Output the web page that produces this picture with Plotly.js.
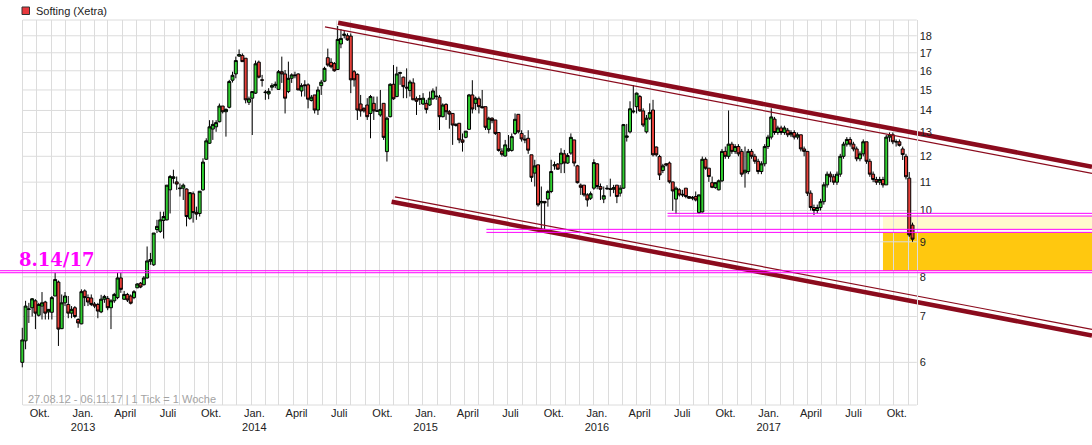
<!DOCTYPE html>
<html><head><meta charset="utf-8">
<script src="https://cdn.plot.ly/plotly-3.0.1.min.js"></script>
<style>html,body{margin:0;padding:0;background:#fff}#chart{width:1092px;height:445px}</style>
</head><body><div id="chart"></div>
<script>
// ---- data (weekly candles, Softing Xetra, 27.08.12 - 06.11.17) ----
const firstWeekUTC = Date.UTC(2012, 7, 31);
const open = [
6.00,6.45,7.17,7.21,7.38,7.03,7.25,7.35,7.11,7.10,
7.50,7.86,6.72,7.33,7.29,7.08,7.21,6.93,6.83,7.63,
7.46,7.45,7.30,7.29,7.11,7.42,7.44,7.21,7.38,7.46,
7.97,7.42,7.54,7.50,7.46,7.71,7.83,7.79,7.97,8.43,
8.33,9.38,9.32,9.67,9.69,10.72,11.14,11.01,10.76,10.78,
10.75,9.74,10.58,9.94,9.90,10.72,11.88,12.54,13.15,13.25,
13.48,14.21,13.94,14.15,15.50,15.83,16.81,16.85,16.69,14.39,
14.59,14.84,16.47,15.52,14.90,14.80,15.14,15.22,15.03,15.95,
15.83,14.92,15.60,15.78,15.83,14.95,15.26,15.26,14.48,14.75,
14.02,15.22,15.45,16.72,16.46,16.39,16.07,17.51,18.02,18.00,
17.98,15.95,15.81,14.31,14.10,14.26,13.86,14.34,13.98,13.79,
14.34,12.19,13.71,15.29,14.67,15.86,15.66,15.14,14.97,15.36,
14.56,14.57,14.31,14.34,14.26,14.56,14.70,14.64,13.71,14.29,
13.94,13.86,13.36,13.41,12.68,12.79,13.14,14.75,14.34,14.56,
14.18,14.18,13.14,13.64,13.56,13.00,12.21,12.01,12.22,12.24,
12.96,13.82,12.96,12.71,12.75,12.06,11.34,11.66,10.26,10.31,
10.39,10.66,11.62,11.69,11.70,12.10,11.73,12.13,12.68,11.62,
10.89,10.89,10.54,10.42,10.78,11.70,10.84,10.39,10.78,10.76,10.74,
10.89,10.60,10.78,12.79,13.03,13.93,14.18,14.67,13.98,13.03,
13.64,14.02,12.38,11.99,11.44,11.70,11.73,11.01,10.39,10.72,
10.56,10.78,10.48,10.42,
10.48,9.93,9.95,11.88,11.53,10.98,10.80,10.72,
11.05,12.2,12.0,12.5,12.2,12.4,12.2,11.35,11.4,12.2,
12.0,11.8,11.4,11.7,12.4,12.8,13.6,13.0,13.2,13.0,
13.1,12.9,13.0,12.8,12.9,12.3,12.2,10.6,10.1,10.0,
10.1,10.3,10.9,11.3,11.2,11.0,11.3,12.0,12.5,12.7,
12.5,12.3,11.9,12.1,12.6,11.8,11.3,11.1,11.0,11.1,
10.9,12.8,12.9,12.6,12.6,12.3,12.0,11.15,9.52];
const high = [
6.74,7.38,7.33,7.45,7.42,7.33,7.60,7.38,7.18,7.50,
8.11,7.90,7.54,7.60,7.50,7.25,7.25,6.96,7.67,7.67,
7.54,7.54,7.35,7.33,7.53,7.53,7.50,7.42,7.58,8.11,
8.11,7.63,7.58,7.54,7.65,7.83,7.86,8.02,8.86,8.67,
9.27,9.69,9.96,9.96,10.89,11.27,11.47,11.21,10.95,10.95,
10.77,10.62,10.66,10.13,10.67,11.92,12.75,13.55,13.55,13.55,
14.33,14.21,14.10,15.52,15.95,16.78,17.19,16.96,16.69,14.67,
14.92,16.56,16.56,15.78,15.00,15.09,15.34,15.43,16.04,16.78,
16.04,16.50,15.86,15.95,15.86,15.34,15.50,15.34,14.75,14.75,
15.17,15.52,16.22,17.24,16.69,16.48,18.60,18.40,18.35,18.15,
18.14,16.04,15.86,14.75,14.15,14.59,14.75,14.67,14.67,15.00,
14.34,13.71,15.34,16.31,16.22,15.95,15.69,16.13,15.52,15.60,
14.67,14.75,14.84,14.51,14.92,15.08,15.17,14.75,14.34,14.34,
14.02,13.86,13.41,13.41,12.96,13.06,14.80,15.50,14.67,14.67,
15.00,14.18,13.71,13.68,13.56,13.00,12.33,12.68,12.89,12.96,
13.86,13.83,13.10,12.89,13.10,12.06,11.86,11.66,10.84,10.31,
10.72,11.86,11.79,11.73,12.33,12.26,12.13,12.96,12.68,11.66,
10.95,10.89,10.60,10.66,11.88,11.73,10.95,10.84,10.89,11.13,10.90,
10.89,10.89,13.38,13.38,14.44,15.25,14.87,14.75,14.10,13.79,
14.34,14.51,12.40,12.06,11.70,11.73,11.79,11.01,10.84,10.78,
10.72,10.78,10.50,10.50,
10.66,10.54,11.99,11.96,11.53,11.21,11.00,11.10,
12.3,12.4,14.0,12.6,12.5,12.5,12.3,12.4,12.3,12.3,
12.1,11.9,11.8,12.5,12.9,14.1,13.7,13.3,13.3,13.3,
13.2,13.1,13.1,13.0,12.9,12.4,12.2,10.7,10.2,10.2,
10.4,11.0,11.4,11.4,11.3,11.4,12.1,12.6,12.8,12.8,
12.6,12.4,12.2,12.7,12.6,11.9,11.4,11.2,11.2,11.2,
12.9,13.0,13.0,12.7,12.7,12.4,12.1,11.38,9.6];
const low = [
5.90,6.27,6.85,7.00,6.71,7.00,6.93,6.93,6.93,6.93,
7.50,6.34,6.71,7.25,6.96,6.96,6.96,6.74,6.82,7.25,
7.25,7.25,7.20,6.96,7.08,7.33,7.15,6.71,7.33,7.42,
7.58,7.40,7.35,7.29,7.42,7.70,7.70,7.77,7.95,8.33,
8.30,9.27,9.27,9.10,9.67,9.90,10.95,10.72,10.48,10.36,
9.48,9.69,9.60,9.69,9.80,10.69,11.86,12.51,12.68,13.03,
13.45,13.86,12.82,14.10,15.38,15.60,16.76,16.50,14.34,14.26,
12.89,14.80,15.60,15.17,14.51,14.54,14.97,15.09,15.00,15.36,
13.86,14.84,15.36,15.60,15.00,14.67,14.67,14.10,14.43,13.86,
13.79,14.75,15.40,16.22,16.13,15.95,16.04,17.26,17.84,17.70,
14.84,15.17,13.56,13.71,13.90,13.56,12.75,13.56,13.94,13.71,
12.68,11.79,13.68,14.51,14.64,15.26,14.59,14.59,14.67,14.51,
13.79,14.26,14.26,13.86,14.21,14.51,14.51,13.11,13.68,13.56,
13.17,12.47,13.26,12.54,12.19,12.75,13.11,13.86,14.02,13.86,
14.10,13.11,12.96,13.41,12.89,12.19,11.99,11.99,12.19,12.19,
12.89,12.96,12.61,12.54,12.10,11.01,10.84,10.13,9.38,9.27,
10.13,10.60,11.47,11.47,11.34,11.34,11.70,12.06,11.60,10.95,
10.54,10.48,10.13,10.36,10.72,10.74,10.36,10.25,10.72,10.48,10.60,
10.25,10.48,10.76,12.61,12.96,13.86,13.86,13.94,13.24,12.96,
13.56,11.99,11.99,11.08,11.34,11.60,10.95,9.99,9.88,10.48,
10.46,10.42,10.40,10.35,
10.31,9.88,9.93,11.47,11.01,10.78,10.76,10.70,
11.0,11.9,11.9,12.1,12.1,12.0,11.2,10.8,11.3,11.9,
11.7,11.3,11.3,11.6,12.3,12.7,12.9,12.9,12.9,12.9,
12.8,12.8,12.7,12.7,12.2,12.0,10.5,10.0,9.85,9.9,
10.0,10.2,10.8,11.0,10.9,10.9,11.2,11.9,12.4,12.4,
12.2,11.8,11.8,12.0,11.7,11.2,11.0,10.9,10.9,10.8,
10.9,12.6,12.5,12.4,12.4,11.85,11.1,9.15,9.0];
const close = [
6.47,7.25,7.18,7.43,7.08,7.29,7.33,7.08,7.17,7.46,
7.93,6.71,7.33,7.50,7.08,7.17,7.00,6.85,7.61,7.46,
7.35,7.29,7.25,7.13,7.42,7.49,7.21,7.38,7.54,7.97,
7.67,7.54,7.40,7.32,7.61,7.81,7.73,7.97,8.44,8.48,
9.27,9.48,9.69,9.80,10.89,11.21,11.20,10.93,10.78,10.89,
9.80,10.62,9.93,9.88,10.67,11.77,12.64,13.25,13.36,13.44,
14.21,13.94,14.05,15.43,15.76,16.56,16.90,16.50,14.51,14.56,
14.92,16.38,15.66,15.50,14.87,14.93,15.22,15.29,15.95,15.83,
14.59,15.60,15.78,15.74,15.00,15.22,15.22,14.54,14.64,14.02,
15.00,15.40,16.13,16.31,16.22,16.00,17.78,17.84,18.10,17.75,
15.52,15.52,14.02,13.98,13.98,13.71,14.67,13.98,13.97,14.05,
12.79,13.64,15.29,14.56,15.83,15.90,15.17,15.10,15.41,14.51,
14.44,14.54,14.59,14.05,14.59,14.95,14.67,13.71,14.26,13.94,
13.83,13.33,13.32,12.68,12.58,13.06,14.75,14.07,14.59,14.18,
14.13,13.23,13.64,13.53,12.96,12.24,12.08,12.47,12.31,12.82,
13.59,13.03,12.72,12.68,12.25,11.18,11.62,10.19,10.31,10.26,
10.66,11.40,11.66,11.49,12.13,11.73,12.03,12.79,11.73,10.98,
10.81,10.54,10.36,10.58,11.75,10.84,10.74,10.51,10.76,10.74,10.80,
10.48,10.78,13.35,12.85,14.08,13.97,14.84,13.98,13.33,13.64,
13.90,12.06,12.06,11.27,11.62,11.66,11.01,10.68,10.78,10.54,
10.54,10.48,10.42,10.45,
10.36,10.54,11.88,11.53,11.21,10.81,10.98,11.05,
12.2,12.0,12.5,12.2,12.4,12.1,11.3,11.45,12.2,12.0,
11.8,11.4,11.7,12.4,12.8,13.7,13.0,13.2,13.0,13.2,
12.9,13.0,12.8,12.9,12.3,12.2,10.6,10.1,10.0,10.1,
10.3,10.9,11.3,11.2,11.0,11.3,12.0,12.5,12.7,12.5,
12.3,11.9,12.1,12.6,11.8,11.3,11.1,11.0,11.1,10.9,
12.8,12.9,12.6,12.6,12.45,12.07,11.2,9.21,9.08];

const yTicks = [6,7,8,9,10,11,12,13,14,15,16,17,18];
const quarterLabels = {1:'Jan.', 4:'April', 7:'Juli', 10:'Okt.'};

// trend channel (date, price)
const upperThickX = ['2014-07-05','2018-11-27 10:00'], upperThickY = [18.80, 11.585];
const upperThinX  = ['2014-06-07','2018-11-27 10:00'], upperThinY  = [18.55, 11.33];
const lowerThickX = ['2014-10-27','2018-11-27 10:00'], lowerThickY = [10.30, 6.567];
const lowerThinX  = ['2014-11-03','2018-11-27 10:00'], lowerThinY  = [10.47, 6.705];

// horizontal levels (magenta double lines)
const levelStart = ['2012-07-14 12:00','2015-05-17','2016-06-06'];
const levelLow   = [8.111, 9.29, 9.815];
const levelHigh  = [8.166, 9.386, 9.905];
const zoneStart = '2017-09-08';

const xStart = '2012-07-14 12:00', xEnd = '2018-11-27 10:00';
const gridLeft = '2012-09-01', gridRight = '2017-11-19';

// ---- build ----
const dates = open.map((_, i) => new Date(firstWeekUTC + i*7*864e5).toISOString().slice(0,10));

const tickvals = [], ticktext = [];
for (let y = 2012, m = 9; y < 2017 || (y === 2017 && m <= 11); ) {
  tickvals.push(`${y}-${String(m).padStart(2,'0')}-01`);
  let t = quarterLabels[m] || '';
  if (m === 1) t += '<br>' + y;
  ticktext.push(t);
  m++; if (m > 12) { m = 1; y++; }
}

const MAROON = '#8b0b1d', MAG = '#ff00ff', GRID = '#dcdcdc';
const shapes = [];
shapes.push({type:'rect', xref:'x', yref:'y', x0:zoneStart, x1:xEnd, y0:levelHigh[0], y1:levelLow[1], fillcolor:'#ffc80f', line:{width:0}, layer:'below'});
shapes.push({type:'rect', xref:'x', yref:'y', x0:zoneStart, x1:xEnd, y0:levelHigh[1], y1:levelLow[2], fillcolor:'#fffacd', line:{width:0}, layer:'below'});
yTicks.forEach(v => shapes.push({type:'line', xref:'x', yref:'y', x0:gridLeft, x1:gridRight, y0:v, y1:v, line:{color:GRID, width:1}, layer:'below'}));
shapes.push({type:'line', xref:'x', yref:'paper', x0:gridLeft, x1:gridRight, y0:1, y1:1, line:{color:GRID, width:1}, layer:'below'});
shapes.push({type:'line', xref:'x', yref:'paper', x0:gridLeft, x1:gridRight, y0:0, y1:0, line:{color:GRID, width:1}, layer:'below'});
levelStart.forEach((s, i) => {
  [levelLow[i], levelHigh[i]].forEach(v => shapes.push({type:'line', xref:'x', yref:'y', x0:s, x1:xEnd, y0:v, y1:v, line:{color:MAG, width:1}, layer:'above'}));
});
shapes.push({type:'rect', xref:'paper', yref:'paper', x0:22/1092, x1:29.5/1092, y0:(405-14.5)/385, y1:(405-7)/385, fillcolor:'#e8383d', line:{color:'#333', width:1}});

const annotations = [
  {xref:'paper', yref:'paper', x:34/1092, y:(405-10.5)/385, xanchor:'left', yanchor:'middle', showarrow:false, text:'Softing (Xetra)', font:{family:'Liberation Sans, Arial, sans-serif', size:11, color:'#222'}},
  {xref:'paper', yref:'paper', x:26/1092, y:(405-399)/385, xanchor:'left', yanchor:'middle', showarrow:false, text:'27.08.12 - 06.11.17 | 1 Tick = 1 Woche', font:{family:'Liberation Sans, Arial, sans-serif', size:11, color:'#a3a3a3'}},
  {xref:'paper', yref:'paper', x:17/1092, y:(405-259.5)/385, xanchor:'left', yanchor:'middle', showarrow:false, text:'<b>8.14/17</b>', font:{family:'DejaVu Serif, serif', size:18, color:MAG}}
];

const lineTrace = (x, y, w) => ({type:'scatter', mode:'lines', x, y, line:{color:MAROON, width:w}, hoverinfo:'skip', showlegend:false, cliponaxis:true});

const data = [
  {type:'candlestick', x:dates, open, high, low, close,
   increasing:{line:{color:'#000', width:1}, fillcolor:'#2fcf2f'},
   decreasing:{line:{color:'#000', width:1}, fillcolor:'#e8403a'},
   whiskerwidth:0, hoverinfo:'skip', showlegend:false},
  lineTrace(upperThickX, upperThickY, 4.5),
  lineTrace(upperThinX, upperThinY, 1.2),
  lineTrace(lowerThickX, lowerThickY, 4.5),
  lineTrace(lowerThinX, lowerThinY, 1.2)
];

const layout = {
  width:1092, height:445,
  margin:{l:0, r:0, t:20, b:40, pad:0},
  paper_bgcolor:'#fff', plot_bgcolor:'#fff',
  showlegend:false, boxgap:0.1, boxgroupgap:0,
  xaxis:{type:'date', range:[xStart, xEnd], tickmode:'array', tickvals, ticktext,
         showgrid:true, gridcolor:GRID, gridwidth:1, zeroline:false, showline:false, ticks:'',
         ticklabelshift:3, tickfont:{family:'Liberation Sans, Arial, sans-serif', size:11, color:'#222'},
         rangeslider:{visible:false}, fixedrange:true},
  yaxis:{type:'log', range:[Math.log10(5.198), Math.log10(18.98)], side:'right', anchor:'free',
         position:916.5/1092, tickvals:yTicks, ticktext:yTicks.map(String),
         showgrid:false, zeroline:false, showline:true, linecolor:GRID, ticks:'',
         tickfont:{family:'Liberation Sans, Arial, sans-serif', size:11, color:'#222'}, fixedrange:true},
  shapes, annotations
};

Plotly.newPlot('chart', data, layout, {staticPlot:true, displayModeBar:false});
</script>
</body></html>
